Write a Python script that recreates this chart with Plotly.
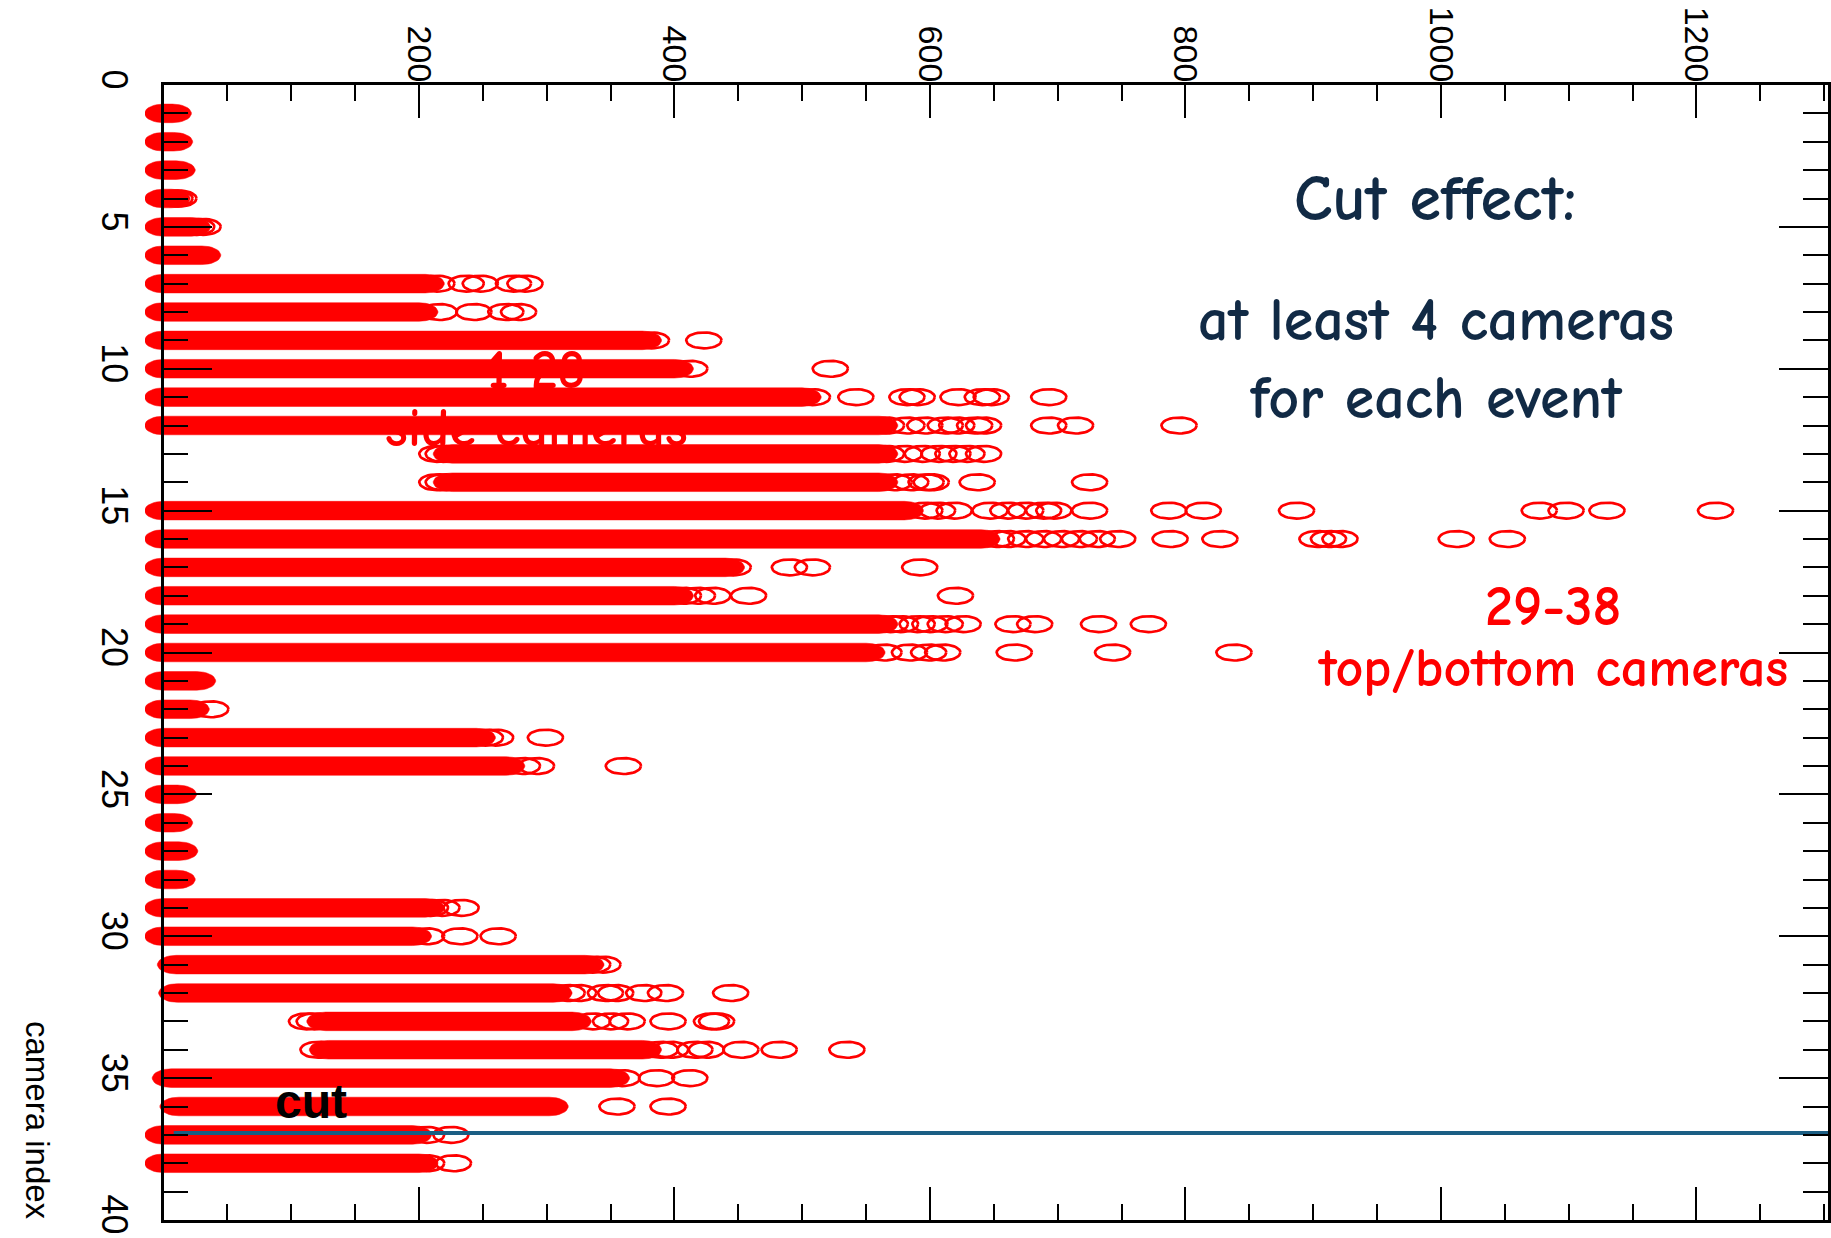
import numpy as np
import plotly.graph_objects as go

# ---------------- data ----------------
cameras = list(range(1, 39))

# extent of the densely populated (solid) part of each camera row
dense_lo = [0, 0, 0, 0, 0, 0, 0, 0, 0, 0,
            0, 0, 226, 226, 0, 0, 0, 0, 0, 0,
            0, 0, 0, 0, 0, 0, 0, 0, 0, 0,
            10, 11, 127, 129, 6, 12, 0, 0]
dense_hi = [7, 8, 10, 6, 22, 30, 205, 200, 375, 400,
            500, 560, 560, 560, 580, 640, 440, 400, 560, 550,
            26, 21, 245, 268, 11, 8, 12, 10, 205, 195,
            330, 305, 320, 375, 350, 302, 195, 200]

# individually visible entries of each camera row
sparse_values = [
    [], [], [], [9, 12], [26, 31], [],
    [214, 237, 248, 274, 283],
    [216, 243, 268, 278],
    [382, 423],
    [412, 522],
    [508, 542, 582, 590, 622, 641, 648, 693],
    [566, 582, 596, 612, 621, 635, 642, 693, 714, 795],
    [214, 219, 566, 580, 594, 607, 618, 629, 642],
    [214, 219, 572, 585, 597, 601, 637, 725],
    [596, 606, 619, 647, 661, 675, 689, 697, 725, 787, 814, 887, 1077, 1098, 1130, 1215],
    [652, 661, 675, 689, 703, 717, 731, 747, 788, 827, 903, 912, 921, 1012, 1052],
    [446, 490, 508, 592],
    [407, 418, 430, 458, 620],
    [569, 577, 590, 600, 612, 626, 665, 682, 732, 771],
    [564, 584, 599, 610, 666, 743, 838],
    [], [37],
    [252, 260, 299],
    [281, 292, 360],
    [], [], [], [],
    [209, 218, 233],
    [206, 232, 262],
    [336, 344],
    [316, 325, 346, 354, 376, 393, 444],
    [112, 118, 336, 350, 363, 395, 429, 433],
    [121, 389, 397, 416, 425, 452, 482, 535],
    [359, 386, 412],
    [355, 395],
    [206, 225],
    [206, 227],
]

cut_level = 36.93
cut_start = 8

x_tick_vals = [0, 200, 400, 600, 800, 1000, 1200]
x_tick_text = ["", "200", "400", "600", "800", "1000", "1200"]
y_tick_vals = [0, 5, 10, 15, 20, 25, 30, 35, 40]
y_tick_text = ["0", "5", "10", "15", "20", "25", "30", "35", "40"]

# ---------------- geometry / style ----------------
W, H = 1831, 1238
ml, mr, mt, mb = 145, 3, 85, 18
x_max = 1303
y_max = 40
left_room_px = 18.5
plot_w = W - ml - mr
plot_h = H - mt - mb
p = left_room_px / plot_w
x_pad = x_max * p / (1 - p)
px_per_x = (plot_w - left_room_px) / x_max
px_per_y = plot_h / y_max

ring_ax = 17.6 / px_per_x
ring_by = 8.0 / px_per_y
cap_ax = 19.0 / px_per_x
cap_by = 9.3 / px_per_y

RED = "#ff0000"
NAVY = "#112a45"
CUT = "#1b5e84"
NARROW = "Liberation Sans Narrow, Arial Narrow, sans-serif"
COMIC = "Comic Sans MS, Comic Neue, Lato, sans-serif"

# dense bands: stadium-like outline (union of the markers)
t_r = np.linspace(-np.pi / 2, np.pi / 2, 18)
t_l = np.linspace(np.pi / 2, 3 * np.pi / 2, 18)
band_x, band_y = [], []
for k, lo, hi in zip(cameras, dense_lo, dense_hi):
    xs = np.concatenate([hi + cap_ax * np.cos(t_r), lo + cap_ax * np.cos(t_l)])
    ys = np.concatenate([k + cap_by * np.sin(t_r), k + cap_by * np.sin(t_l)])
    band_x += list(xs) + [xs[0], None]
    band_y += list(ys) + [ys[0], None]

# open elliptic markers
t = np.linspace(0, 2 * np.pi, 37)
ring_x, ring_y = [], []
for k, vals in zip(cameras, sparse_values):
    for v in vals:
        ring_x += list(v + ring_ax * np.cos(t)) + [None]
        ring_y += list(k + ring_by * np.sin(t)) + [None]

fig = go.Figure()

# text lying underneath the data
fig.add_trace(go.Scatter(
    x=[292, 292], y=[10.22, 12.23], mode="text",
    text=["<b>1-28</b>", "<b>side cameras</b>"],
    textfont=dict(family=COMIC, size=54, color=RED),
    hoverinfo="skip", xaxis="x", yaxis="y"))

fig.add_trace(go.Scatter(
    x=band_x, y=band_y, mode="lines", fill="toself",
    fillcolor=RED, line=dict(color=RED, width=0.5),
    hoverinfo="skip", xaxis="x", yaxis="y"))

fig.add_trace(go.Scatter(
    x=ring_x, y=ring_y, mode="lines",
    line=dict(color=RED, width=2.7),
    hoverinfo="skip", xaxis="x", yaxis="y"))

fig.add_trace(go.Scatter(
    x=[cut_start, x_max], y=[cut_level, cut_level], mode="lines",
    line=dict(color=CUT, width=4),
    hoverinfo="skip", xaxis="x", yaxis="y"))

# empty trace for the frame subplot
fig.add_trace(go.Scatter(x=[], y=[], xaxis="x2", yaxis="y2", hoverinfo="skip"))

annotations = [
    dict(x=995, y=4.02, text="<b>Cut effect:</b>", font=dict(family=COMIC, size=64, color=NAVY)),
    dict(x=996, y=9.69, text="<b>at least 4 cameras</b><br><b>for each event</b>",
         font=dict(family=COMIC, size=60, color=NAVY)),
    dict(x=1088, y=18.4, text="<b>29-38</b>", font=dict(family=COMIC, size=56, color=RED)),
    dict(x=1088, y=20.55, text="<b>top/bottom cameras</b>", font=dict(family=COMIC, size=54, color=RED)),
    dict(x=115.5, y=35.84, text="<b>cut</b>",
         font=dict(family="Liberation Sans, Arial, sans-serif", size=48, color="black")),
]
for a in annotations:
    a.update(xref="x", yref="y", showarrow=False, xanchor="center", yanchor="middle")

annotations.append(dict(
    xref="paper", yref="paper", x=(38 - ml) / plot_w, y=1 - (1120 - mt) / plot_h,
    text="camera index", textangle=90, showarrow=False,
    xanchor="center", yanchor="middle",
    font=dict(family=NARROW, size=33, color="black")))

fig.update_layout(
    width=W, height=H,
    margin=dict(l=ml, r=mr, t=mt, b=mb, pad=0, autoexpand=False),
    paper_bgcolor="white", plot_bgcolor="rgba(0,0,0,0)",
    showlegend=False, hovermode=False,
    annotations=annotations,
    xaxis=dict(domain=[0, 1], range=[-x_pad, x_max], visible=False, anchor="y",
               fixedrange=True, automargin=False),
    yaxis=dict(domain=[0, 1], range=[y_max, 0], visible=False, anchor="x",
               fixedrange=True, automargin=False),
    xaxis2=dict(
        domain=[p, 1], range=[0, x_max], anchor="y2", side="top", automargin=False,
        showline=True, linecolor="black", linewidth=2.5, mirror="ticks",
        showgrid=False, zeroline=False,
        ticks="inside", ticklen=33, tickwidth=2.2, tickcolor="black",
        tickmode="array", tickvals=x_tick_vals, ticktext=x_tick_text,
        tickangle=90, ticklabelstandoff=-12,
        tickfont=dict(family=NARROW, size=34, color="black"),
        minor=dict(tickmode="linear", tick0=0, dtick=50, ticks="inside",
                   ticklen=16, tickwidth=2.2, tickcolor="black", showgrid=False),
        fixedrange=True),
    yaxis2=dict(
        domain=[0, 1], range=[y_max, 0], anchor="x2", automargin=False,
        showline=True, linecolor="black", linewidth=2.5, mirror="ticks",
        showgrid=False, zeroline=False,
        ticks="inside", ticklen=49, tickwidth=2.2, tickcolor="black",
        tickmode="array", tickvals=y_tick_vals, ticktext=y_tick_text,
        tickangle=90, ticklabelstandoff=16,
        tickfont=dict(family=NARROW, size=36, color="black"),
        minor=dict(tickmode="linear", tick0=0, dtick=1, ticks="inside",
                   ticklen=25, tickwidth=2.2, tickcolor="black", showgrid=False),
        fixedrange=True),
)

fig.write_html("out.html")
